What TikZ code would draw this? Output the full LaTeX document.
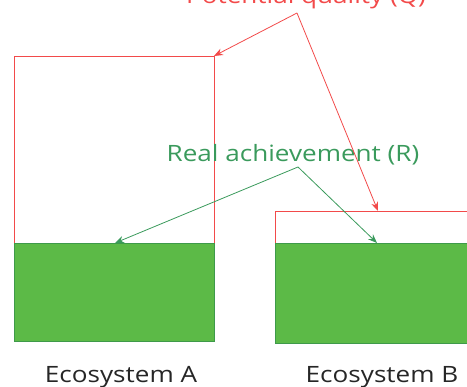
\documentclass[tikz,border=0pt]{standalone}
\usepackage{fontspec}
\setmainfont{Open Sans}
\usetikzlibrary{arrows.meta}
\definecolor{qred}{HTML}{F24A4A}
\definecolor{rgreen}{HTML}{3A9A5C}
\definecolor{fillgreen}{HTML}{5CBA47}
\definecolor{edgegreen}{HTML}{3E9A4A}
\tikzset{
  qline/.style={draw=qred, line width=0.8pt},
  rline/.style={draw=rgreen, line width=0.8pt},
  qarrow/.style={qline, -{Stealth[length=9pt,width=7pt]}},
  rarrow/.style={rline, -{Stealth[length=9pt,width=7pt]}},
  label/.style={font=\fontsize{22.5pt}{26pt}\selectfont, inner sep=0pt, anchor=base, xscale=1.16},
}
\begin{document}
\begin{tikzpicture}[x=1pt,y=1pt]
\useasboundingbox (0,0) rectangle (467,387);
% box A
\fill[fillgreen] (14,387-243) rectangle (214,387-341);
\draw[edgegreen, line width=0.6pt] (14,387-243) rectangle (214,387-341);
\draw[qline] (14,387-243) -- (14,387-56) -- (214,387-56) -- (214,387-243);
% box B
\fill[fillgreen] (275,387-243) rectangle (470,387-343);
\draw[edgegreen, line width=0.6pt] (470,387-243) -- (275,387-243) -- (275,387-343) -- (470,387-343);
\draw[qline] (275,387-243) -- (275,387-211) -- (470,387-211);
% anchors
\coordinate (qapex) at (297,387-13);
\coordinate (qa) at (214,387-56);
\coordinate (qb) at (378,387-211);
\coordinate (rapex) at (298,387-167);
\coordinate (ra) at (115,387-243);
\coordinate (rb) at (377,387-243);
% texts
\node[label, text=qred] (qt) at (306,387-4) {Potential quality (Q)};
\node[label, text=rgreen] (rt) at (293,387-162) {Real achievement (R)};
\node[label, text=black!85] (ea) at (121,387-383) {Ecosystem A};
\node[label, text=black!85] (eb) at (382,387-383) {Ecosystem B};
% arrows
\draw[qarrow] (qapex) -- (qa);
\draw[qarrow] (qapex) -- (qb);
\draw[rarrow] (rapex) -- (ra);
\draw[rarrow] (rapex) -- (rb);
\end{tikzpicture}
\end{document}
